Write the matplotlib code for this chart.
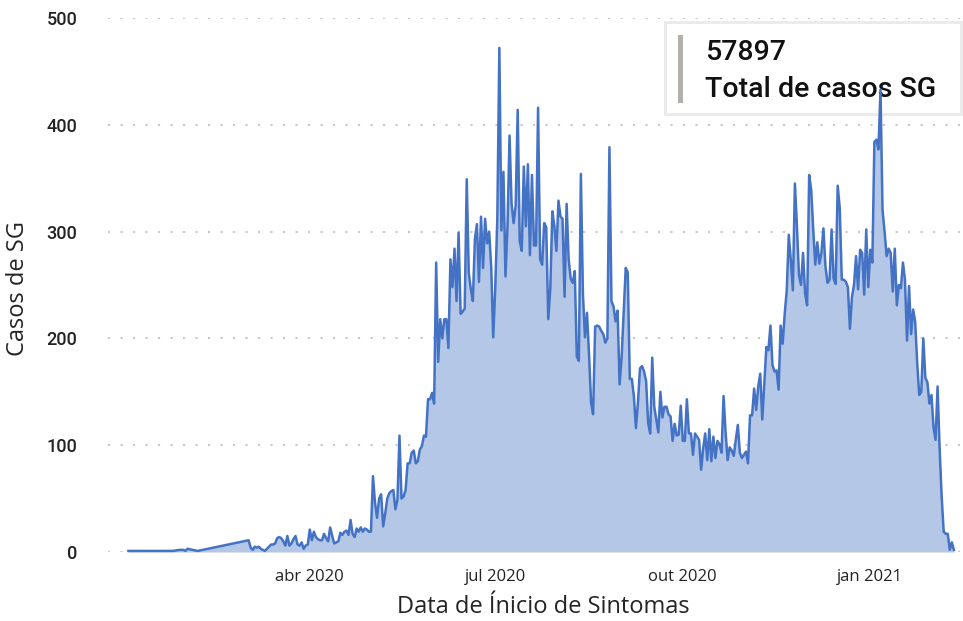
import pandas as pd
import matplotlib
matplotlib.use('Agg')
import matplotlib.pyplot as plt
from matplotlib.patches import Rectangle

# sparse reports before the daily series starts
early_dates = ['2020-01-03', '2020-01-10', '2020-01-17', '2020-01-25', '2020-01-28',
               '2020-01-30', '2020-01-31', '2020-02-01', '2020-02-06']
early_cases = [1, 1, 1, 1, 2, 2, 1, 3, 1]

# daily cases from 2020-03-02, one list per month
mar_2020 = [11, 4, 2, 5, 4, 5, 3, 2, 1, 3, 5, 7, 7, 8, 13, 14, 13, 10, 6, 15, 6, 8, 12, 15, 7, 6, 9, 3, 6, 7]
apr_2020 = [21, 11, 19, 14, 12, 11, 11, 17, 13, 10, 23, 15, 8, 9, 10, 18, 16, 19, 20, 16, 30, 17, 14, 22, 19,
            23, 19, 22, 21, 19]
may_2020 = [19, 71, 46, 32, 50, 54, 24, 36, 50, 55, 57, 58, 40, 49, 109, 50, 52, 58, 83, 83, 93, 95, 83, 85,
            96, 99, 109, 108, 143, 143, 149]
jun_2020 = [139, 271, 178, 218, 200, 218, 218, 191, 274, 248, 284, 235, 299, 223, 225, 228, 349, 261, 246,
            235, 293, 307, 253, 314, 266, 312, 289, 300, 267, 201]
jul_2020 = [248, 312, 472, 301, 356, 258, 305, 390, 326, 308, 324, 414, 291, 282, 361, 305, 363, 278, 353,
            287, 287, 416, 274, 269, 308, 304, 218, 247, 319, 305, 282]
aug_2020 = [329, 314, 312, 239, 326, 274, 256, 252, 263, 183, 179, 354, 242, 201, 224, 185, 140, 129, 211,
            212, 211, 207, 204, 196, 200, 379, 235, 230, 216, 226, 157]
sep_2020 = [183, 224, 266, 262, 162, 162, 146, 116, 140, 172, 174, 169, 160, 121, 111, 182, 136, 124, 112,
            150, 126, 136, 136, 129, 127, 104, 120, 109, 110, 137]
oct_2020 = [104, 104, 143, 111, 111, 91, 111, 108, 105, 77, 97, 111, 86, 115, 85, 108, 88, 104, 101, 93, 146,
            112, 86, 98, 95, 90, 105, 119, 93, 88, 91]
nov_2020 = [94, 83, 128, 128, 153, 133, 155, 167, 124, 158, 192, 189, 212, 175, 169, 170, 152, 212, 195, 223,
            245, 297, 273, 245, 345, 305, 259, 250, 280, 242]
dec_2020 = [231, 353, 339, 302, 269, 290, 270, 280, 303, 267, 252, 255, 302, 256, 251, 343, 322, 255, 255,
            253, 248, 209, 239, 250, 277, 246, 283, 280, 241, 302, 248]
jan_2021 = [283, 271, 384, 386, 377, 433, 320, 300, 277, 284, 280, 244, 284, 231, 250, 247, 271, 255, 198,
            249, 204, 227, 216, 177, 147, 150, 200, 163, 159, 139, 147]
feb_2021 = [117, 105, 155, 97, 52, 19, 17, 17, 2, 9, 2]

tick_dates = ['2020-04-01', '2020-07-01', '2020-10-01', '2021-01-01']
tick_labels = ['abr 2020', 'jul 2020', 'out 2020', 'jan 2021']
y_ticks = [0, 100, 200, 300, 400, 500]

total_label = '57897'
total_caption = 'Total de casos SG'

daily = (mar_2020 + apr_2020 + may_2020 + jun_2020 + jul_2020 + aug_2020 + sep_2020 + oct_2020
         + nov_2020 + dec_2020 + jan_2021 + feb_2021)
dates = list(pd.to_datetime(early_dates)) + list(pd.date_range('2020-03-02', periods=len(daily), freq='D'))
cases = early_cases + daily

line_color = '#4472C4'
fill_color = '#B4C7E7'

fig = plt.figure(figsize=(9.63, 6.21), dpi=100)
ax = fig.add_axes([108 / 963, 69 / 621, 852 / 963, 534 / 621])

ax.fill_between(dates, cases, 0, color=fill_color, linewidth=0, zorder=2)
ax.plot(dates, cases, color=line_color, linewidth=1.8, zorder=4, clip_on=False)

ax.set_ylim(0, 500)
ax.set_xlim(pd.Timestamp('2019-12-24'), pd.Timestamp('2021-02-14'))
ax.set_yticks(y_ticks)
ax.set_yticklabels([str(v) for v in y_ticks], fontfamily='Roboto', fontsize=13, fontweight='medium')
ax.set_xticks(pd.to_datetime(tick_dates))
ax.set_xticklabels(tick_labels, fontfamily='Open Sans', fontsize=12)
ax.tick_params(axis='both', length=0, colors='#222222')
ax.tick_params(axis='y', pad=22)
ax.tick_params(axis='x', pad=12)

for s in ax.spines.values():
    s.set_visible(False)
ax.grid(axis='y', color='#C8C8C8', linewidth=1.5, linestyle=(0, (1, 5)))
ax.set_axisbelow(True)

# card with the total
card = Rectangle((0.6538, 0.8202), 0.347, 0.1723, transform=ax.transAxes, facecolor='white',
                 edgecolor='#EBEBEB', linewidth=2.2, zorder=3, clip_on=False)
ax.add_patch(card)
bar = Rectangle((0.669, 0.8408), 0.006, 0.127, transform=ax.transAxes, facecolor='#B3B0AD',
                edgecolor='none', zorder=3, clip_on=False)
ax.add_patch(bar)
ax.text(0.7007, 0.9213, total_label, transform=ax.transAxes, fontfamily='Roboto', fontsize=20.5,
        fontweight='medium', va='baseline', ha='left', color='#111111', zorder=3)
ax.text(0.7007, 0.852, total_caption, transform=ax.transAxes, fontfamily='Roboto', fontsize=20.5,
        fontweight='medium', va='baseline', ha='left', color='#111111', zorder=3)

fig.text(543 / 963, 8 / 621, 'Data de Ínicio de Sintomas', fontfamily='Open Sans', fontsize=17,
         ha='center', va='baseline', color='#252423')
fig.text(18 / 963, 1 - 288 / 621, 'Casos de SG', fontfamily='Open Sans', fontsize=17,
         ha='center', va='center', rotation=90, color='#252423')

fig.savefig('out.png', dpi=100)
